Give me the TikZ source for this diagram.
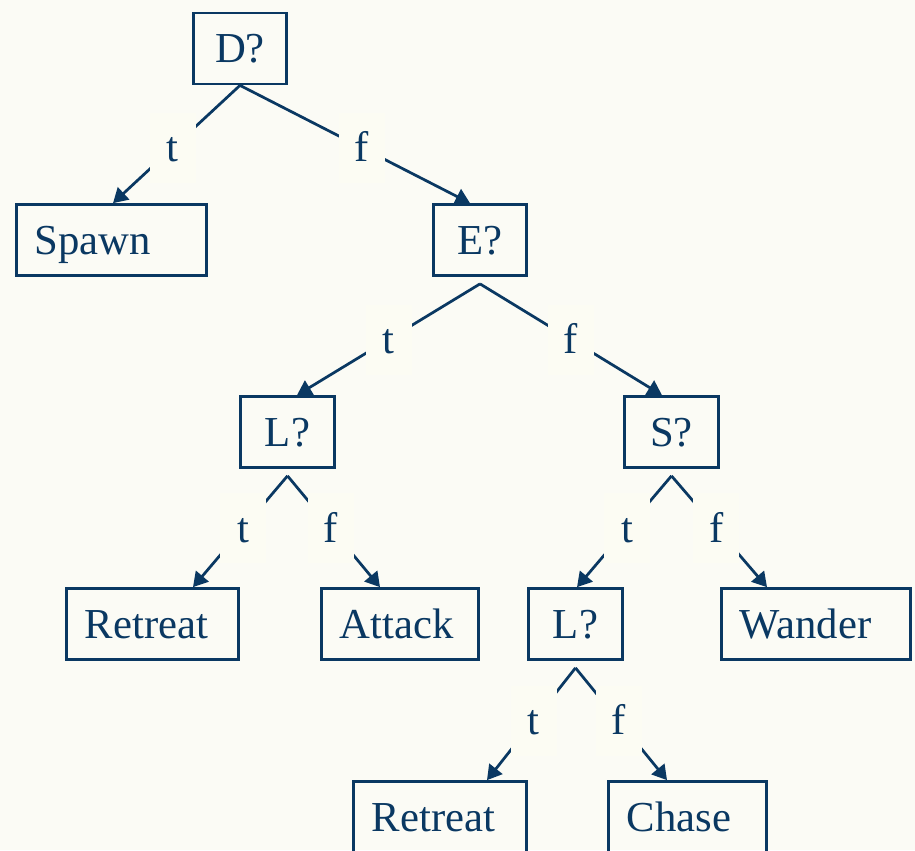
\documentclass[tikz,border=0pt]{standalone}
\usepackage{fontspec}
\setmainfont{Liberation Serif}
\usetikzlibrary{arrows.meta}
\definecolor{ink}{RGB}{10,56,98}
\definecolor{paper}{RGB}{251,251,245}
\definecolor{tagfill}{RGB}{252,252,243}

\begin{document}
\begin{tikzpicture}[x=0.02cm,y=-0.02cm]
\tikzstyle{box}=[rectangle,draw=ink,text=ink,line width=0.055cm,minimum width=1.87cm,minimum height=1.42cm,
                 text height=0.56cm,text depth=0pt,font=\fontsize{24.3}{29}\selectfont]
\tikzstyle{leaf}=[box,align=left,inner xsep=0.37cm]
\tikzstyle{tag}=[rectangle,fill=tagfill,text=ink,inner sep=0pt,minimum width=0.92cm,minimum height=1.4cm,
                 text height=0.56cm,text depth=0pt,font=\fontsize{24.3}{29}\selectfont]
\tikzstyle{branch}=[draw=ink,line width=0.055cm,-{Triangle[length=0.29cm,width=0.33cm]}]
\useasboundingbox (0,0) rectangle (915,850);
\clip (0,0) rectangle (915,850);
\fill[paper] (0,0) rectangle (915,850);
% decisions and actions
\node[box] at (240,48.5) (dq) {D?};
\node[leaf,text width=3.07cm] at (111.5,240) (spawn) {Spawn};
\node[box] at (480,240) (eq) {E?};
\node[box] at (287.5,432) (lq) {L?};
\node[box] at (671.5,432) (sq) {S?};
\node[leaf,text width=2.71cm] at (152.5,624) (retreat) {Retreat};
\node[leaf,text width=2.41cm] at (400,624) (attack) {Attack};
\node[box] at (575.5,624) (lqb) {L?};
\node[leaf,text width=3.05cm] at (816,624) (wander) {Wander};
\node[leaf,text width=2.73cm] at (440,817) (retreatb) {Retreat};
\node[leaf,text width=2.43cm] at (687.5,817) (chase) {Chase};
% t / f branches
\draw[branch] (dq.south) -- node[tag,pos=0.53] {t} ([xshift=0.03cm]spawn.north);
\draw[branch] (dq.south) -- node[tag,pos=0.53] {f} ([xshift=-0.2cm]eq.north);
\draw[branch] ([yshift=-0.14cm]eq.south) -- node[tag] {t} ([xshift=0.19cm]lq.north);
\draw[branch] ([yshift=-0.14cm]eq.south) -- node[tag] {f} ([xshift=-0.19cm]sq.north);
\draw[branch] ([yshift=-0.14cm]lq.south) -- node[tag,pos=0.47] {t} ([xshift=0.81cm]retreat.north);
\draw[branch] ([yshift=-0.14cm]lq.south) -- node[tag,pos=0.47] {f} ([xshift=-0.4cm]attack.north);
\draw[branch] ([yshift=-0.14cm]sq.south) -- node[tag,pos=0.47] {t} ([xshift=0.03cm]lqb.north);
\draw[branch] ([yshift=-0.14cm]sq.south) -- node[tag,pos=0.47] {f} ([xshift=-0.98cm]wander.north);
\draw[branch] ([yshift=-0.14cm]lqb.south) -- node[tag,pos=0.47] {t} ([xshift=0.94cm]retreatb.north);
\draw[branch] ([yshift=-0.14cm]lqb.south) -- node[tag,pos=0.47] {f} ([xshift=-0.41cm]chase.north);
\end{tikzpicture}
\end{document}
